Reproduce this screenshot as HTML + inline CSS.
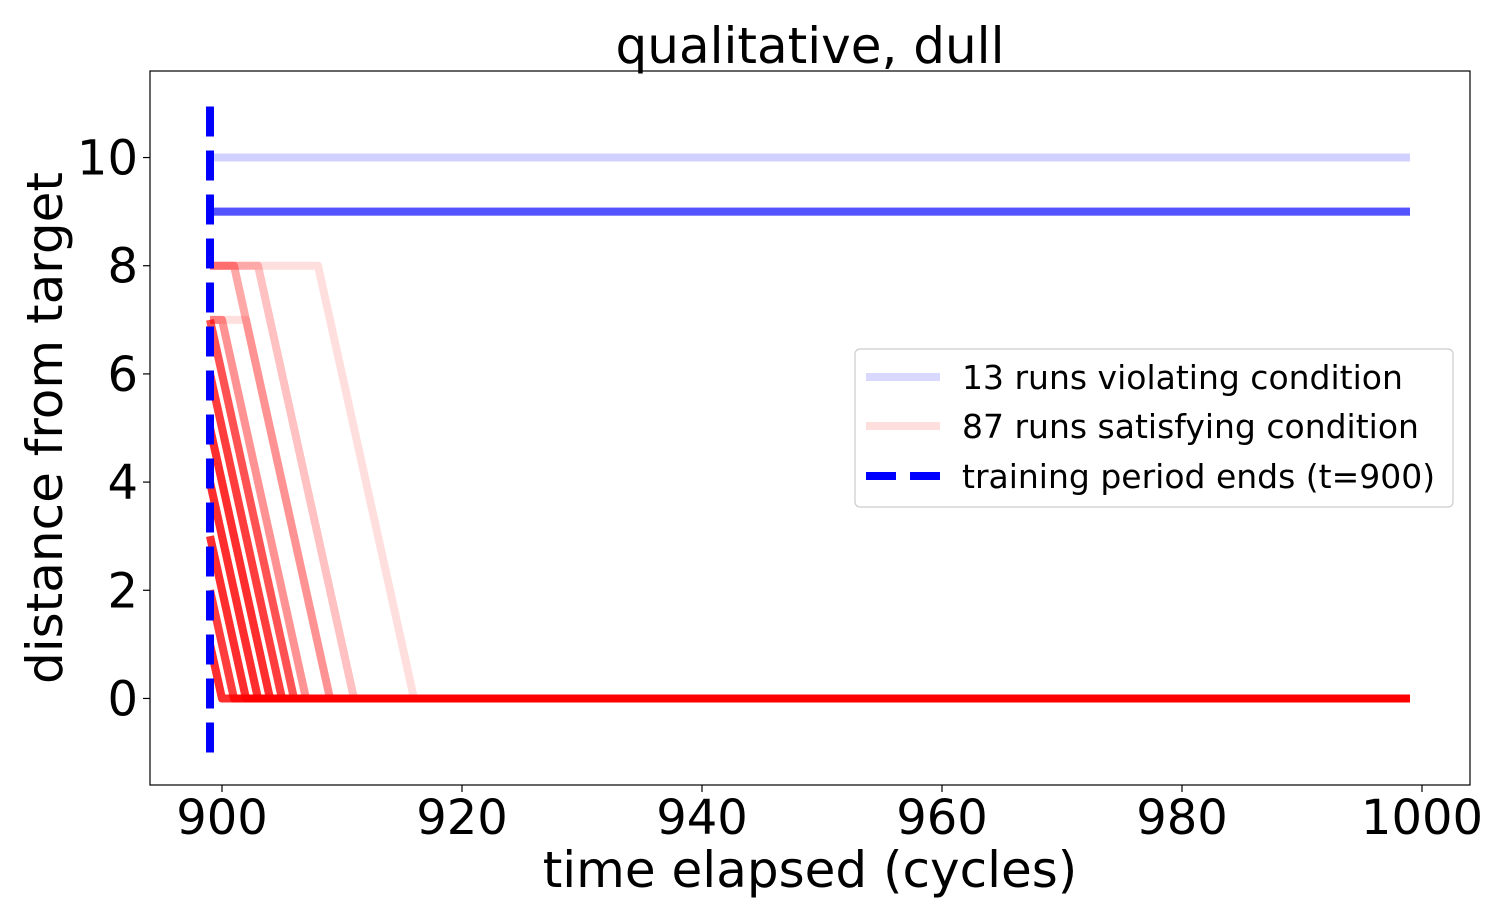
<!DOCTYPE html>
<html><head><meta charset="utf-8"><style>
body{margin:0;background:#fff;font-family:"DejaVu Sans","Liberation Sans",sans-serif}
</style></head><body>
<svg id="chart" width="1500" height="902" xmlns="http://www.w3.org/2000/svg" font-family="DejaVu Sans, Liberation Sans, sans-serif">
<text x="810" y="63" font-size="50" text-anchor="middle">qualitative, dull</text>
<g id="plot"></g>
<rect x="150" y="71" width="1320" height="714" fill="none" stroke="#000" stroke-width="1.2"/>
<g id="xticks"></g>
<g id="yticks"></g>
<text x="810" y="887" font-size="50" text-anchor="middle">time elapsed (cycles)</text>
<text transform="translate(62,428) rotate(-90)" font-size="50" text-anchor="middle">distance from target</text>
<g>
<rect x="855" y="349" width="598" height="158" rx="5" fill="#fff" fill-opacity="0.8" stroke="#ccc" stroke-width="1.2"/>
<line x1="866" y1="377" x2="940" y2="377" stroke="#0000ff" stroke-opacity="0.15" stroke-width="8"/>
<text x="962" y="389" font-size="33">13 runs violating condition</text>
<line x1="866" y1="426" x2="940" y2="426" stroke="#ff0000" stroke-opacity="0.13" stroke-width="8"/>
<text x="962" y="438" font-size="33">87 runs satisfying condition</text>
<line x1="866" y1="476" x2="940" y2="476" stroke="#0000ff" stroke-width="8" stroke-dasharray="30,14"/>
<text x="962" y="488" font-size="33">training period ends (t=900)</text>
</g>
</svg>
<script>
// red runs: start value, time the value is held until, number of runs
const redStart = [8, 8, 8, 7, 7, 7, 6, 5, 4, 3, 2, 1];
const redHold  = [908, 903, 901, 902, 900, 899, 899, 899, 899, 899, 899, 899];
const redCount = [1, 2, 3, 1, 4, 8, 10, 12, 12, 12, 10, 12];
const blueValues = [10, 9];
const blueCount = [2, 11];
const xTicks = [900, 920, 940, 960, 980, 1000];
const yTicks = [0, 2, 4, 6, 8, 10];
const tStart = 899, tEnd = 999, trainEnd = 899;

const X0 = 894, X1 = 1004, Y0 = -1.6, Y1 = 11.6;
function sx(v){ return 150 + (v - X0) / (X1 - X0) * 1320; }
function sy(v){ return 785 - (v - Y0) / (Y1 - Y0) * 714; }
const NS = "http://www.w3.org/2000/svg";
const plot = document.getElementById('plot');
function mk(tag, attrs, parent){ const e = document.createElementNS(NS, tag); for (const k in attrs) e.setAttribute(k, attrs[k]); parent.appendChild(e); return e; }

blueValues.forEach((v, i) => {
  for (let k = 0; k < blueCount[i]; k++) {
    const l = mk('line', {x1: sx(tStart), y1: sy(v), x2: sx(tEnd), y2: sy(v), stroke: '#0000ff', 'stroke-opacity': 0.095, 'stroke-width': 8}, plot);
    
    
  }
});
redStart.forEach((v, i) => {
  const hold = redHold[i];
  const zeroT = hold + v;
  const pts = [[tStart, v], [hold, v], [zeroT, 0], [tEnd, 0]].map(p => sx(p[0]) + ',' + sy(p[1])).join(' ');
  for (let k = 0; k < redCount[i]; k++) {
    const l = mk('polyline', {points: pts, fill: 'none', stroke: '#ff0000', 'stroke-opacity': 0.13, 'stroke-width': 8, 'stroke-linejoin': 'round'}, plot);
    
    
  }
});
const dl = mk('line', {x1: sx(trainEnd), y1: sy(-1), x2: sx(trainEnd), y2: sy(11), stroke: '#0000ff', 'stroke-width': 8, 'stroke-dasharray': '30,14'}, plot);



const xg = document.getElementById('xticks');
xTicks.forEach(t => {
  mk('line', {x1: sx(t), y1: 785, x2: sx(t), y2: 792, stroke: '#000', 'stroke-width': 1.2}, xg);
  const tx = mk('text', {x: sx(t), y: 834, 'font-size': 48, 'text-anchor': 'middle'}, xg);
  tx.textContent = t;
  
  
});
const yg = document.getElementById('yticks');
yTicks.forEach(t => {
  mk('line', {x1: 143, y1: sy(t), x2: 150, y2: sy(t), stroke: '#000', 'stroke-width': 1.2}, yg);
  const tx = mk('text', {x: 138, y: sy(t) + 17, 'font-size': 48, 'text-anchor': 'end'}, yg);
  tx.textContent = t;
  
  
});
</script>
</body></html>
